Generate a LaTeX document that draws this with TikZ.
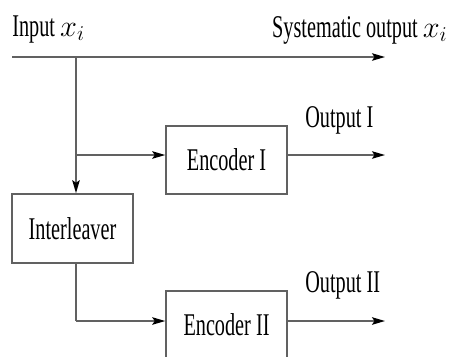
\documentclass[tikz,border=0pt]{standalone}
\usepackage{fontspec}
\setmainfont[FakeStretch=0.64]{Liberation Serif}
\usetikzlibrary{arrows.meta, positioning, calc}

\begin{document}
\begin{tikzpicture}[
        x=0.02cm, y=-0.02cm,
        block/.style={rectangle, draw=black!62, line width=0.9pt, minimum width=2.42cm, minimum height=1.37cm, align=center, font=\fontsize{18}{20}\selectfont},
        wire/.style={draw=black!62, line width=0.9pt},
        flow/.style={wire, -{Stealth[length=0.26cm, width=0.15cm, inset=0.05cm, black]}},
        lbl/.style={inner sep=0pt, font=\fontsize{18}{20}\selectfont}
    ]
        \useasboundingbox (0,0) rectangle (449,356);
        \clip (0,0) rectangle (449,356);
        % blocks
        \node[block] (enc1) at (226.5,160) {Encoder I};
        \node[block, minimum height=1.38cm] (inter) at (72.5,228.5) {Interleaver};
        \node[block] (enc2) at (226.5,325) {Encoder II};
        % wire points
        \coordinate (start) at (12,57);
        \coordinate (sysout) at (385,57);
        \coordinate (split) at (76,57);
        \coordinate (branch) at (76,155);
        \coordinate (lower) at (76,321);
        \coordinate (out1) at (385,155);
        \coordinate (out2) at (385,321);
        % labels
        \node[lbl, anchor=base west] (inlbl) at (12,36) {Input $x_i$};
        \node[lbl, anchor=base east] (syslbl) at (448,37) {Systematic output $x_i$};
        \node[lbl, anchor=base west] (o1lbl) at (305,127) {Output I};
        \node[lbl, anchor=base west] (o2lbl) at (305,292) {Output II};
        % connectors
        \draw[flow] (start) -- (sysout);
        \draw[flow] (split) -- (split |- inter.north);
        \draw[flow] (branch) -- (branch -| enc1.west);
        \draw[flow] (enc1.east |- out1) -- (out1);
        \draw[wire] (inter.south -| lower) -- (lower);
        \draw[flow] (lower) -- (lower -| enc2.west);
        \draw[flow] (enc2.east |- out2) -- (out2);
    \end{tikzpicture}
\end{document}
